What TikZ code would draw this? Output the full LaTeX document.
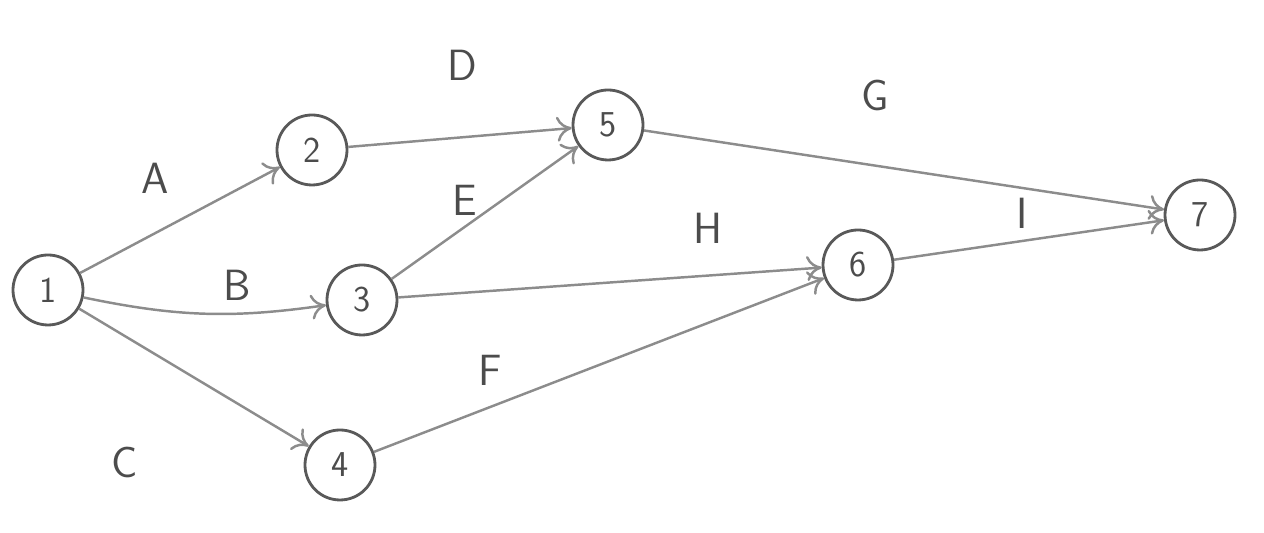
\documentclass[tikz,border=0pt]{standalone}
\usetikzlibrary{positioning,arrows.meta}

\begin{document}
\begin{tikzpicture}[every node/.style={font=\sffamily\huge, text=black!70}]

\useasboundingbox (0,0) rectangle (25.28,10.66);

\tikzset{event/.style={circle,draw=black!65,line width=1.6pt,minimum size=1.4cm}}
\tikzset{act/.style={-{To[length=3mm,width=5mm]},line width=1.4pt,draw=black!45}}

\node (n1) [event] at (0.96,4.86) {1};
\node (n2) [event] at (6.24,7.66) {2};
\node (n3) [event] at (7.24,4.66) {3};
\node (n4) [event] at (6.80,1.36) {4};
\node (n5) [event] at (12.16,8.16) {5};
\node (n6) [event] at (17.16,5.36) {6};
\node (n7) [event] at (24.00,6.36) {7};

\draw[act] (n1) -- (n2);
\draw[act] (n1) to[bend right=10] (n3);
\draw[act] (n1) -- (n4);
\draw[act] (n2) -- (n5);
\draw[act] (n3) -- (n5);
\draw[act] (n3) -- (n6);
\draw[act] (n4) -- (n6);
\draw[act] (n5) -- (n7);
\draw[act] (n6) -- (n7);

\node (la) at (3.10,7.10) {\Huge A};
\node (lb) at (4.74,4.96) {\Huge B};
\node (lc) at (2.50,1.42) {\Huge C};
\node (ld) at (9.24,9.36) {\Huge D};
\node (le) at (9.30,6.66) {\Huge E};
\node (lf) at (9.80,3.25) {\Huge F};
\node (lg) at (17.50,8.76) {\Huge G};
\node (lh) at (14.16,6.10) {\Huge H};
\node (li) at (20.44,6.40) {\Huge I};

\end{tikzpicture}
\end{document}
